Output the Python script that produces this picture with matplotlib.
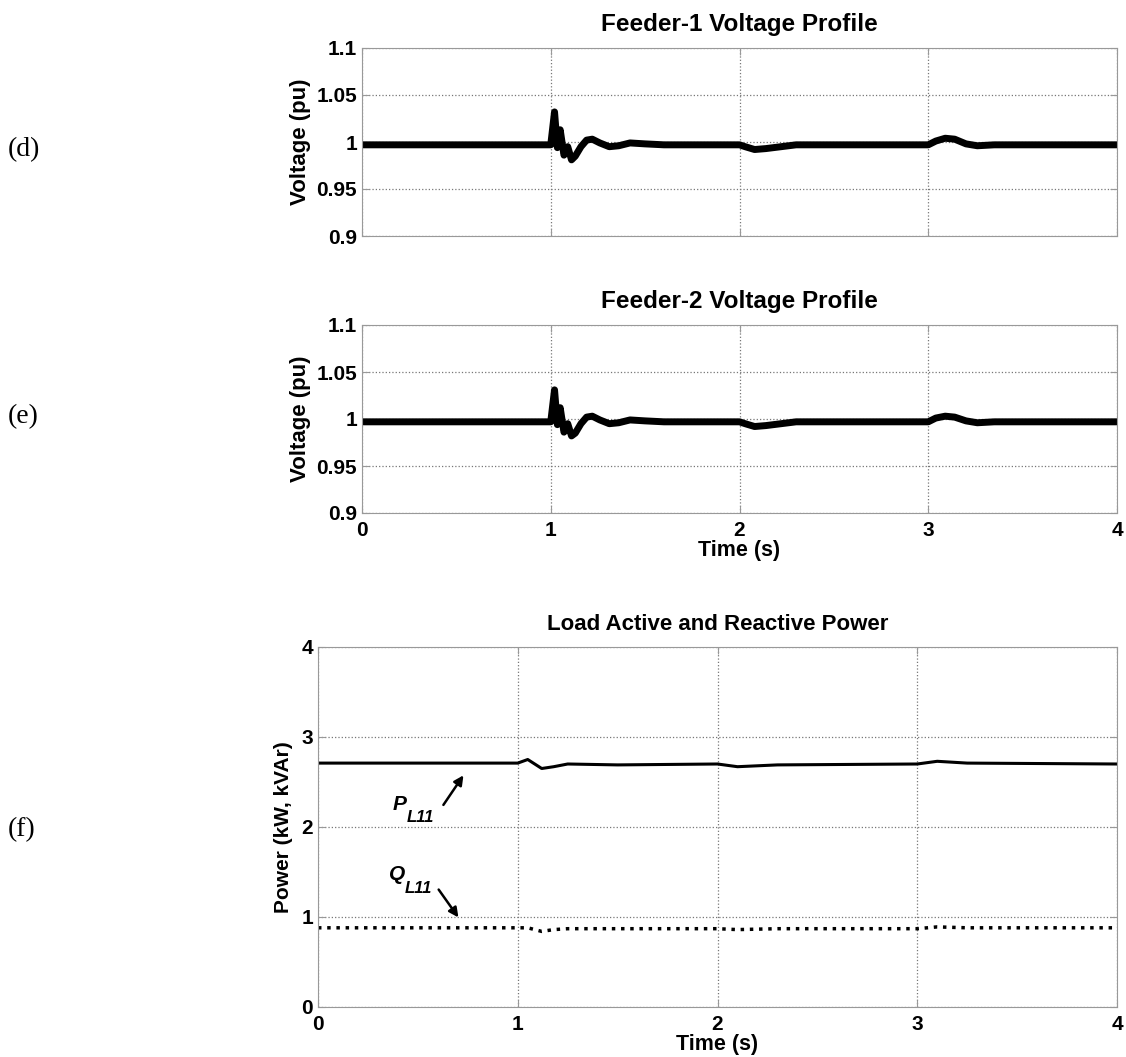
import matplotlib.pyplot as plt

# Feeder voltage (pu), key points
t_v = [0.0, 1.0, 1.02, 1.035, 1.05, 1.07, 1.09, 1.11, 1.13, 1.16, 1.19, 1.22, 1.26, 1.31, 1.36,
       1.42, 1.5, 1.6, 2.0, 2.03, 2.08, 2.14, 2.22, 2.3, 3.0, 3.04, 3.09, 3.14, 3.2, 3.26, 3.35, 4.0]
v_f1 = [0.997, 0.997, 1.032, 0.994, 1.013, 0.986, 0.995, 0.981, 0.985, 0.995, 1.002, 1.003, 0.999, 0.995, 0.996,
        0.999, 0.998, 0.997, 0.997, 0.995, 0.992, 0.993, 0.995, 0.997, 0.997, 1.001, 1.004, 1.003, 0.998, 0.996, 0.997, 0.997]
v_f2 = [0.997, 0.997, 1.031, 0.994, 1.012, 0.986, 0.995, 0.982, 0.985, 0.995, 1.002, 1.003, 0.999, 0.995, 0.996,
        0.999, 0.998, 0.997, 0.997, 0.995, 0.992, 0.993, 0.995, 0.997, 0.997, 1.001, 1.003, 1.002, 0.998, 0.996, 0.997, 0.997]

# Load power (kW, kVAr)
t_p = [0.0, 1.0, 1.05, 1.12, 1.18, 1.25, 1.5, 2.0, 2.1, 2.3, 3.0, 3.1, 3.25, 4.0]
p_l11 = [2.71, 2.71, 2.75, 2.65, 2.67, 2.70, 2.69, 2.70, 2.67, 2.69, 2.70, 2.73, 2.71, 2.70]
q_l11 = [0.88, 0.88, 0.88, 0.84, 0.86, 0.87, 0.87, 0.87, 0.86, 0.87, 0.87, 0.89, 0.88, 0.88]

bold = dict(family="Liberation Sans", weight="bold")

fig = plt.figure(figsize=(11.26, 10.57), dpi=100)
W, H = 1126, 1057


def ax_at(x0, y0, x1, y1):
    return fig.add_axes([x0 / W, 1 - y1 / H, (x1 - x0) / W, (y1 - y0) / H])


def style(ax):
    ax.grid(True, linestyle=":", color="#777777", linewidth=0.9)
    for s in ax.spines.values():
        s.set_color("#999999")
    ax.tick_params(direction="in", top=True, right=True, color="#999999",
                   labelsize=15, length=5)
    ax.tick_params(axis="x", pad=6)
    for lab in ax.get_xticklabels() + ax.get_yticklabels():
        lab.set_fontfamily("Liberation Sans")
        lab.set_fontweight("bold")


axd = ax_at(362, 48, 1117, 236)
axe = ax_at(362, 325, 1117, 513)
axf = ax_at(318, 647, 1117, 1007)

for ax, v, ttl in [(axd, v_f1, "Feeder-1 Voltage Profile"), (axe, v_f2, "Feeder-2 Voltage Profile")]:
    ax.plot(t_v, v, color="black", linewidth=5)
    ax.set_xlim(0, 4)
    ax.set_ylim(0.9, 1.1)
    ax.set_xticks([0, 1, 2, 3, 4])
    ax.set_yticks([0.9, 0.95, 1.0, 1.05, 1.1])
    ax.set_yticklabels(["0.9", "0.95", "1", "1.05", "1.1"])
    ax.set_title(ttl, fontsize=17.5, pad=12, **bold)
    ax.set_ylabel("Voltage (pu)", fontsize=16, labelpad=4, **bold)
    style(ax)

axd.set_xticklabels([])
axe.set_xticklabels(["0", "1", "2", "3", "4"])
style(axe)
axe.set_xlabel("Time (s)", fontsize=15.5, labelpad=0, **bold)

axf.plot(t_p, p_l11, color="black", linewidth=2.2)
axf.plot(t_p, q_l11, color="black", linewidth=2.5, linestyle=":")
axf.set_xlim(0, 4)
axf.set_ylim(0, 4)
axf.set_xticks([0, 1, 2, 3, 4])
axf.set_yticks([0, 1, 2, 3, 4])
axf.set_title("Load Active and Reactive Power", fontsize=16, pad=12, **bold)
axf.set_ylabel("Power (kW, kVAr)", fontsize=15, labelpad=6, **bold)
axf.set_xlabel("Time (s)", fontsize=15.5, labelpad=0, **bold)
style(axf)

axf.annotate("", xy=(0.736, 2.60), xytext=(0.62, 2.22),
             arrowprops=dict(arrowstyle="-|>", color="black", lw=1.8, mutation_scale=14))
axf.annotate("", xy=(0.711, 0.97), xytext=(0.596, 1.33),
             arrowprops=dict(arrowstyle="-|>", color="black", lw=1.8, mutation_scale=14))
fig.text(393 / W, 1 - 810 / H, "P", fontsize=15, style="italic", **bold)
fig.text(407 / W, 1 - 822 / H, "L11", fontsize=12, style="italic", **bold)
fig.text(389 / W, 1 - 880 / H, "Q", fontsize=15, style="italic", **bold)
fig.text(405 / W, 1 - 893 / H, "L11", fontsize=12, style="italic", **bold)

for lbl, y in [("(d)", 150), ("(e)", 417), ("(f)", 830)]:
    fig.text(8 / W, 1 - y / H, lbl, fontsize=20, family="Liberation Serif", va="center")

plt.savefig("out.png", dpi=100)
